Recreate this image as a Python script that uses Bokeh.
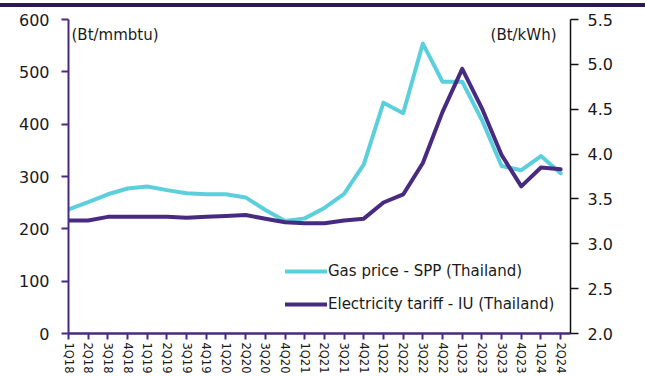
from bokeh.plotting import figure
from bokeh.models import (Range1d, LinearAxis, FixedTicker, Legend, LegendItem,
                          Label, NumeralTickFormatter, Div)
from bokeh.layouts import column
from bokeh.embed import file_html
from bokeh.resources import INLINE

quarters = ["1Q18", "2Q18", "3Q18", "4Q18", "1Q19", "2Q19", "3Q19", "4Q19",
            "1Q20", "2Q20", "3Q20", "4Q20", "1Q21", "2Q21", "3Q21", "4Q21",
            "1Q22", "2Q22", "3Q22", "4Q22", "1Q23", "2Q23", "3Q23", "4Q23",
            "1Q24", "2Q24"]
gas_price = [237, 251, 266, 277, 281, 274, 268, 266, 266, 260, 236, 215,
             220, 240, 267, 323, 441, 421, 554, 481, 481, 408, 320, 312,
             339, 306]
elec_tariff = [3.26, 3.26, 3.30, 3.30, 3.30, 3.30, 3.29, 3.30, 3.31, 3.32,
               3.28, 3.24, 3.23, 3.23, 3.26, 3.28, 3.46, 3.55, 3.90, 4.47,
               4.95, 4.51, 3.99, 3.64, 3.85, 3.83]
left_ticks = [0, 100, 200, 300, 400, 500, 600]
right_ticks = [2.0, 2.5, 3.0, 3.5, 4.0, 4.5, 5.0, 5.5]

CYAN = "#5ccfdc"
PURPLE = "#482a80"
DARK = "#2c1a4f"
FONT = "DejaVu Sans"
TXT = "#1a1a1a"

x = list(range(len(quarters)))

p = figure(width=645, height=368, output_backend="svg", toolbar_location=None,
           x_range=Range1d(0, 25.5), y_range=Range1d(0, 600),
           min_border_left=68, min_border_right=75, min_border_top=11,
           min_border_bottom=42)
p.outline_line_color = None
p.xgrid.visible = False
p.ygrid.visible = False
p.background_fill_color = "white"
p.border_fill_color = "white"

p.extra_y_ranges = {"right": Range1d(2.0, 5.5)}

# left axis
yax = p.yaxis[0]
yax.ticker = FixedTicker(ticks=left_ticks)
yax.axis_line_color = PURPLE
yax.axis_line_width = 2
yax.major_tick_line_color = PURPLE
yax.major_tick_line_width = 2
yax.major_tick_out = 7
yax.major_tick_in = 0
yax.minor_tick_line_color = None
yax.major_label_standoff = 12
yax.major_label_text_font = FONT
yax.major_label_text_font_size = "16px"
yax.major_label_text_color = TXT

# right axis
rax = LinearAxis(y_range_name="right", ticker=FixedTicker(ticks=right_ticks),
                 formatter=NumeralTickFormatter(format="0.0"))
rax.axis_line_color = "#111111"
rax.axis_line_width = 1.5
rax.major_tick_line_color = "#111111"
rax.major_tick_line_width = 1.5
rax.major_tick_out = 8
rax.major_tick_in = 0
rax.minor_tick_line_color = None
rax.major_label_standoff = 9
rax.major_label_text_font = FONT
rax.major_label_text_font_size = "16px"
rax.major_label_text_color = TXT
p.add_layout(rax, "right")

# bottom axis
xax = p.xaxis[0]
xax.ticker = FixedTicker(ticks=x)
xax.major_label_overrides = {i: q for i, q in enumerate(quarters)}
xax.major_label_orientation = "vertical"
xax.axis_line_color = PURPLE
xax.axis_line_width = 2.5
xax.major_tick_line_color = PURPLE
xax.major_tick_line_width = 2
xax.major_tick_out = 6
xax.major_tick_in = 0
xax.minor_tick_line_color = None
xax.major_label_standoff = 3
xax.major_label_text_font = FONT
xax.major_label_text_font_size = "11.5px"
xax.major_label_text_color = TXT

r_gas = p.line(x, gas_price, line_color=CYAN, line_width=4,
               line_join="round", line_cap="round")
r_elec = p.line(x, elec_tariff, y_range_name="right", line_color=PURPLE,
                line_width=4, line_join="round", line_cap="round")

legend = Legend(items=[LegendItem(label="Gas price - SPP (Thailand)", renderers=[r_gas]),
                       LegendItem(label="Electricity tariff - IU (Thailand)", renderers=[r_elec])],
                location=(217, 19), orientation="vertical",
                glyph_width=42, glyph_height=20, label_height=20,
                label_standoff=1, spacing=13, padding=0, margin=0,
                label_text_font=FONT, label_text_font_size="15px",
                label_text_color=TXT,
                background_fill_alpha=0, border_line_color=None)
p.add_layout(legend, "center")

p.add_layout(Label(x=0, y=600, x_offset=3, y_offset=-6, text="(Bt/mmbtu)",
                   text_baseline="top", text_align="left",
                   text_font=FONT, text_font_size="15px", text_color=TXT))
p.add_layout(Label(x=25.5, y=600, x_offset=-14, y_offset=-6, text="(Bt/kWh)",
                   text_baseline="top", text_align="right",
                   text_font=FONT, text_font_size="15px", text_color=TXT))

band = Div(width=645, height=4, margin=(3, 0, 1, 0), text="",
           styles={"background-color": DARK, "width": "645px", "height": "4.5px"})

layout = column(band, p, spacing=0, margin=0)

open("out.html", "w").write(file_html(layout, INLINE))
